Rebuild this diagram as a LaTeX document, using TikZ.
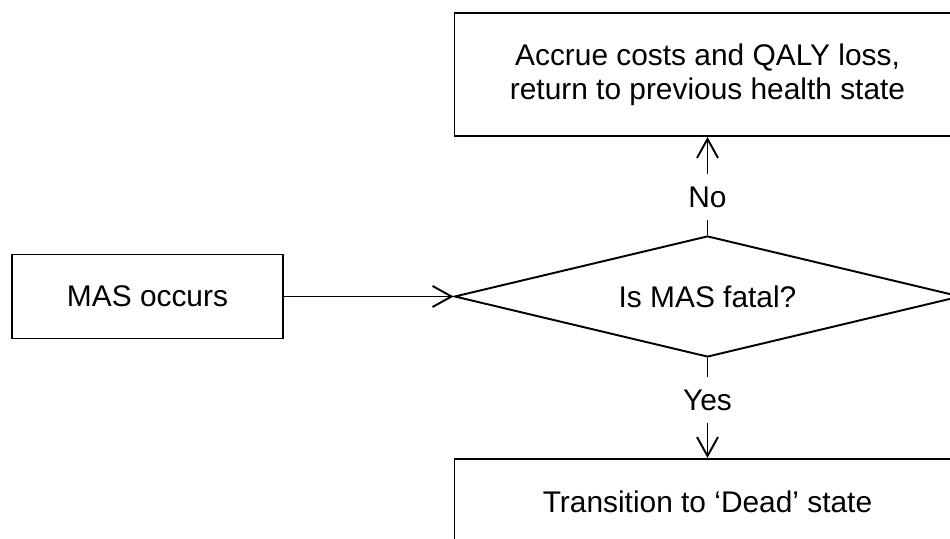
\documentclass[tikz,border=0pt]{standalone}
\usepackage{fontspec}
\setmainfont{Liberation Sans}
\usetikzlibrary{shapes.geometric,arrows.meta}

\tikzset{
  box/.style={draw, line width=1.1pt, rectangle, inner sep=0pt, align=center},
  decision/.style={draw, line width=1.1pt, diamond, aspect=4.2, inner sep=0pt},
  answer/.style={inner sep=0pt, minimum height=0.9cm},
  link/.style={line width=1.1pt, -{Straight Barb[length=0.38cm, width=0.42cm]}}
}

\begin{document}
\begin{tikzpicture}[font=\fontsize{17}{19.5}\selectfont]
  \useasboundingbox (0,0) rectangle (19,10.78);
  \clip (0,0) rectangle (19,10.78);
  \node[box, minimum width=5.42cm, minimum height=1.68cm] (occurs) at (2.95,4.85) {MAS occurs};
  \node[decision, minimum width=10.12cm, minimum height=2.42cm] (fatal) at (14.15,4.85) {Is MAS fatal?};
  \node[box, minimum width=10.12cm, minimum height=2.46cm] (accrue) at (14.15,9.29)
    {Accrue costs and QALY loss,\\return to previous health state};
  \node[box, minimum width=10.12cm, minimum height=1.72cm] (dead) at (14.15,0.74)
    {Transition to `Dead' state};
  \node[answer] (no) at (14.15,6.84) {No};
  \node[answer] (yes) at (14.15,2.78) {Yes};
  \draw[link] (occurs) -- (fatal.west);
  \draw[line width=1.1pt] (fatal.north) -- (no);
  \draw[link] (no) -- (accrue.south);
  \draw[line width=1.1pt] (fatal.south) -- (yes);
  \draw[link] (yes) -- (dead.north);
\end{tikzpicture}
\end{document}
